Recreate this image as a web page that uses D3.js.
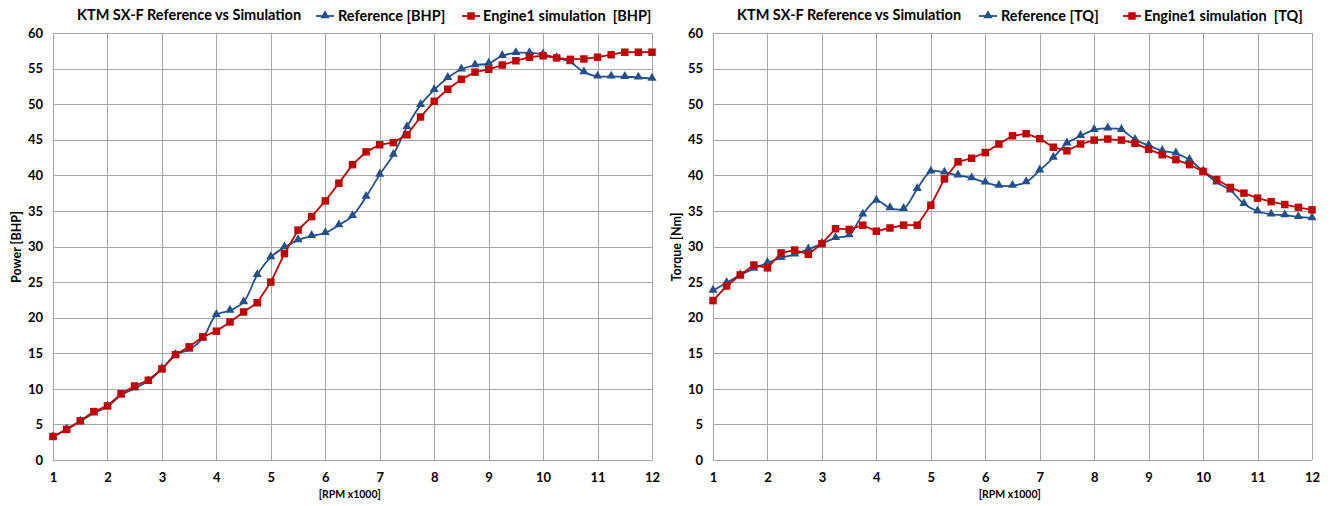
<!DOCTYPE html>
<html>
<head>
<meta charset="utf-8">
<script src="https://cdn.jsdelivr.net/npm/d3@7"></script>
<style>
  html, body { margin: 0; padding: 0; background: #ffffff; }
  svg { display: block; }
  text { font-family: Lato, "Open Sans", sans-serif; font-weight: bold; fill: #000; }
</style>
</head>
<body>
<svg id="chart" width="1333" height="506"></svg>
<script>
// Engine speed in thousands of RPM
const rpm = [1, 1.25, 1.5, 1.75, 2, 2.25, 2.5, 2.75, 3, 3.25, 3.5, 3.75, 4, 4.25, 4.5, 4.75,
             5, 5.25, 5.5, 5.75, 6, 6.25, 6.5, 6.75, 7, 7.25, 7.5, 7.75, 8, 8.25, 8.5, 8.75,
             9, 9.25, 9.5, 9.75, 10, 10.25, 10.5, 10.75, 11, 11.25, 11.5, 11.75, 12];

// Power [BHP]
const powerReference = [3.2, 4.3, 5.4, 6.6, 7.5, 9.1, 10.05, 11.1, 12.8, 14.8, 15.5, 17.1,
  20.4, 21.0, 22.2, 26.0, 28.5, 29.9, 30.9, 31.5, 31.9, 33.0, 34.3, 37.0, 40.1, 42.9, 46.8,
  49.9, 52.0, 53.7, 54.9, 55.5, 55.7, 56.8, 57.2, 57.2, 57.0, 56.5, 55.9, 54.5, 53.9, 53.9,
  53.85, 53.75, 53.6];
const powerSimulation = [3.3, 4.3, 5.5, 6.8, 7.6, 9.3, 10.4, 11.2, 12.8, 14.8, 15.9, 17.3,
  18.1, 19.4, 20.8, 22.1, 25.0, 29.0, 32.3, 34.2, 36.4, 38.9, 41.5, 43.3, 44.3, 44.6, 45.7,
  48.2, 50.4, 52.1, 53.5, 54.5, 54.9, 55.5, 56.1, 56.6, 56.8, 56.5, 56.3, 56.35, 56.6, 56.95,
  57.3, 57.3, 57.3];

// Torque [Nm]
const torqueReference = [23.8, 24.9, 26.0, 26.9, 27.7, 28.4, 28.9, 29.6, 30.4, 31.2, 31.6,
  34.5, 36.45, 35.4, 35.3, 38.1, 40.55, 40.4, 40.0, 39.6, 39.0, 38.55, 38.55, 39.05, 40.7,
  42.5, 44.5, 45.55, 46.4, 46.6, 46.4, 45.0, 44.2, 43.45, 43.1, 42.2, 40.55, 39.0, 37.9,
  36.0, 34.95, 34.5, 34.4, 34.15, 34.0];
const torqueSimulation = [22.4, 24.45, 26.0, 27.4, 27.0, 29.1, 29.5, 28.9, 30.4, 32.5, 32.4,
  33.0, 32.15, 32.6, 33.0, 33.0, 35.8, 39.5, 41.9, 42.4, 43.2, 44.4, 45.55, 45.85, 45.15,
  43.95, 43.45, 44.4, 44.95, 45.1, 44.95, 44.5, 43.65, 42.9, 42.2, 41.5, 40.55, 39.4, 38.3,
  37.5, 36.8, 36.3, 35.9, 35.5, 35.15];

const xTicks = [1, 2, 3, 4, 5, 6, 7, 8, 9, 10, 11, 12];
const yTicks = [0, 5, 10, 15, 20, 25, 30, 35, 40, 45, 50, 55, 60];

const chartTitle = "KTM SX-F Reference vs Simulation";
const xTitle = "[RPM x1000]";

const BLUE = "#23508a";
const RED = "#c00000";
const GRID = "#a6a6a6";

const svg = d3.select("#chart");

function drawPanel(opt) {
  const g = svg.append("g");
  const x = d3.scaleLinear().domain([1, 12]).range([opt.left, opt.left + 599]);
  const y = d3.scaleLinear().domain([0, 60]).range([460, 33]);

  // grid
  g.append("g").selectAll("line").data(yTicks).join("line")
    .attr("x1", x(1)).attr("x2", x(12))
    .attr("y1", d => Math.round(y(d)) + 0.5).attr("y2", d => Math.round(y(d)) + 0.5)
    .attr("stroke", GRID).attr("stroke-width", 1);
  g.append("g").selectAll("line").data(xTicks).join("line")
    .attr("x1", d => Math.round(x(d)) + 0.5).attr("x2", d => Math.round(x(d)) + 0.5)
    .attr("y1", y(60)).attr("y2", y(0))
    .attr("stroke", GRID).attr("stroke-width", 1);

  // axes (labels only, grid serves as lines)
  const yAxis = g.append("g")
    .attr("transform", `translate(${x(1) - 6},0)`)
    .call(d3.axisLeft(y).tickValues(yTicks).tickSize(0).tickPadding(4));
  yAxis.select(".domain").remove();
  yAxis.selectAll("text").attr("font-size", 13).attr("font-family", "Lato, sans-serif").attr("font-weight", "bold").attr("fill", "#000");

  const xAxis = g.append("g")
    .attr("transform", `translate(0,${y(0) + 13})`)
    .call(d3.axisBottom(x).tickValues(xTicks).tickFormat(d3.format("d")).tickSize(0).tickPadding(0));
  xAxis.select(".domain").remove();
  xAxis.selectAll("text").attr("font-size", 13).attr("font-family", "Lato, sans-serif").attr("font-weight", "bold").attr("fill", "#000");

  g.append("text").attr("x", x(6.45)).attr("y", 498).attr("text-anchor", "middle")
    .attr("font-size", 10.5).text(xTitle);

  g.append("text")
    .attr("transform", `translate(${opt.left - 32},${247}) rotate(-90)`)
    .attr("text-anchor", "middle").attr("font-size", 12.5).text(opt.yTitle);

  // series: reference first, simulation drawn over it
  const refPts = rpm.map((r, i) => [r, opt.ref[i]]);
  const simPts = rpm.map((r, i) => [r, opt.sim[i]]);

  const smooth = d3.line().x(d => x(d[0])).y(d => y(d[1])).curve(d3.curveCatmullRom.alpha(0.5));
  const straight = d3.line().x(d => x(d[0])).y(d => y(d[1]));

  const tri = d3.symbol().type(d3.symbolTriangle).size(36);
  const sq = d3.symbol().type(d3.symbolSquare).size(56);

  g.append("path").attr("d", smooth(refPts)).attr("fill", "none")
    .attr("stroke", BLUE).attr("stroke-width", 1.8);
  g.append("g").selectAll("path").data(refPts).join("path")
    .attr("d", tri).attr("transform", d => `translate(${x(d[0])},${y(d[1]) - 0.5})`)
    .attr("fill", BLUE);

  g.append("path").attr("d", straight(simPts)).attr("fill", "none")
    .attr("stroke", RED).attr("stroke-width", 1.8);
  g.append("g").selectAll("path").data(simPts).join("path")
    .attr("d", sq).attr("transform", d => `translate(${x(d[0])},${y(d[1])})`)
    .attr("fill", RED);

  // title and legend
  g.append("text").attr("x", opt.left + 24).attr("y", 20).attr("font-size", 14.5).text(chartTitle);

  const legend = g.append("g");
  legend.append("line").attr("x1", opt.leg1).attr("x2", opt.leg1 + 18).attr("y1", 16).attr("y2", 16)
    .attr("stroke", BLUE).attr("stroke-width", 1.8);
  legend.append("path").attr("d", tri).attr("transform", `translate(${opt.leg1 + 9},15.5)`).attr("fill", BLUE);
  legend.append("text").attr("x", opt.leg1 + 22).attr("y", 21).attr("font-size", 14.5).text(opt.refLabel);

  legend.append("line").attr("x1", opt.leg2).attr("x2", opt.leg2 + 18).attr("y1", 16).attr("y2", 16)
    .attr("stroke", RED).attr("stroke-width", 1.8);
  legend.append("path").attr("d", sq).attr("transform", `translate(${opt.leg2 + 9},16)`).attr("fill", RED);
  legend.append("text").attr("x", opt.leg2 + 21).attr("y", 21).attr("font-size", 14.5)
    .attr("xml:space", "preserve").style("white-space", "pre").text(opt.simLabel);
}

drawPanel({
  left: 53, yTitle: "Power [BHP]", ref: powerReference, sim: powerSimulation,
  leg1: 316, leg2: 462, refLabel: "Reference [BHP]", simLabel: "Engine1 simulation  [BHP]"
});
drawPanel({
  left: 713, yTitle: "Torque [Nm]", ref: torqueReference, sim: torqueSimulation,
  leg1: 979, leg2: 1123, refLabel: "Reference [TQ]", simLabel: "Engine1 simulation  [TQ]"
});
</script>
</body>
</html>
